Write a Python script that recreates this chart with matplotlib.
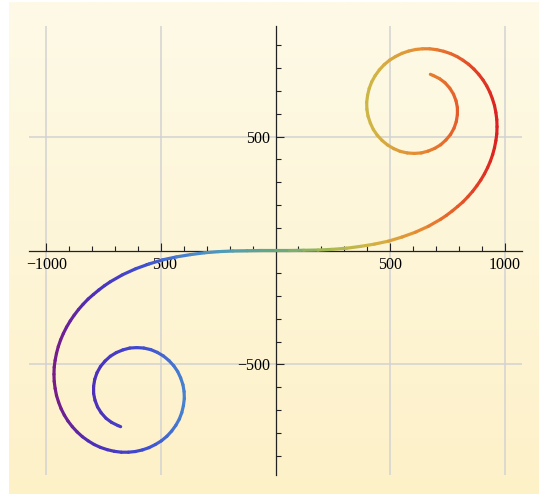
import numpy as np
import matplotlib
matplotlib.use('Agg')
import matplotlib.pyplot as plt
from matplotlib.collections import LineCollection
from matplotlib.colors import LinearSegmentedColormap, to_rgb

upper_x = [0, 62, 124, 186, 248, 310, 371, 432, 493, 552,
           610, 667, 721, 746, 771, 795, 818, 840, 860, 879,
           896, 912, 926, 938, 948, 956, 962, 966, 967, 966,
           962, 956, 947, 936, 922, 906, 887, 866, 843, 818,
           792, 764, 734, 704, 673, 642, 612, 581, 552, 524,
           498, 474, 453, 435, 420, 409, 402, 398, 399, 404,
           414, 427, 444, 465, 489, 516, 544, 575, 605, 636,
           666, 695, 721, 744, 764, 779, 789, 794, 794, 788,
           777, 761, 740, 716, 688, 676]
upper_y = [0, 0, 1, 2, 5, 10, 18, 28, 41, 59,
           80, 106, 137, 154, 173, 193, 213, 236, 259, 284,
           309, 336, 364, 392, 421, 451, 482, 512, 543, 574,
           605, 636, 665, 694, 722, 748, 773, 796, 817, 835,
           851, 864, 874, 881, 885, 885, 882, 875, 865, 851,
           835, 815, 792, 767, 740, 711, 681, 650, 619, 589,
           559, 531, 506, 483, 463, 447, 435, 428, 426, 428,
           436, 448, 464, 485, 509, 536, 565, 596, 627, 657,
           686, 712, 736, 754, 768, 773]

# lower left half (inner end -> origin)
lower_x = [-676, -688, -716, -740, -761, -777, -788, -794, -794, -789,
           -779, -764, -744, -721, -695, -666, -636, -605, -575, -544,
           -516, -489, -465, -444, -427, -414, -404, -399, -398, -402,
           -409, -420, -435, -453, -474, -498, -524, -552, -581, -612,
           -642, -673, -704, -734, -764, -792, -818, -843, -866, -887,
           -906, -922, -936, -947, -956, -962, -966, -967, -966, -962,
           -956, -948, -938, -926, -912, -896, -879, -860, -840, -818,
           -795, -771, -746, -721, -667, -610, -552, -493, -432, -371,
           -310, -248, -186, -124, -62]
lower_y = [-773, -768, -754, -736, -712, -686, -657, -627, -596, -565,
           -536, -509, -485, -464, -448, -436, -428, -426, -428, -435,
           -447, -463, -483, -506, -531, -559, -589, -619, -650, -681,
           -711, -740, -767, -792, -815, -835, -851, -865, -875, -882,
           -885, -885, -881, -874, -864, -851, -835, -817, -796, -773,
           -748, -722, -694, -665, -636, -605, -574, -543, -512, -482,
           -451, -421, -392, -364, -336, -309, -284, -259, -236, -213,
           -193, -173, -154, -137, -106, -80, -59, -41, -28, -18,
           -10, -5, -2, -1, 0]

xticks = [-1000, -500, 500, 1000]
yticks = [-500, 500]
xlabels = ['\u22121000', '\u2212500', '500', '1000']
ylabels = ['\u2212500', '500']

# rainbow gradient, coloured by x
stops = [0.0, 0.08, 0.2, 0.3, 0.4, 0.5, 0.62, 0.72, 0.82, 0.91, 1.0]
stop_cols = [(0.47, 0.11, 0.53), (0.31, 0.18, 0.72), (0.25, 0.30, 0.82),
             (0.28, 0.52, 0.81), (0.32, 0.62, 0.70), (0.38, 0.66, 0.50),
             (0.65, 0.73, 0.32), (0.82, 0.71, 0.27), (0.90, 0.56, 0.20),
             (0.90, 0.37, 0.17), (0.86, 0.13, 0.13)]
cmap = LinearSegmentedColormap.from_list('mma_rainbow', list(zip(stops, stop_cols)))

plt.rcParams['font.family'] = ['Liberation Serif', 'DejaVu Serif']

fig = plt.figure(figsize=(5.39, 4.96), dpi=100)
fig.patch.set_facecolor('white')

# cream gradient background
bg = fig.add_axes([9 / 539, 2 / 496, 530 / 539, 492 / 496], zorder=0)
grad = np.linspace(0, 1, 256).reshape(-1, 1)
top = np.array(to_rgb('#fefae7'))
bot = np.array(to_rgb('#fdf1c8'))
img = top[None, None, :] * (1 - grad[:, :, None]) + bot[None, None, :] * grad[:, :, None]
bg.imshow(img, aspect='auto', extent=[0, 1, 0, 1])
bg.axis('off')

ax = fig.add_axes([29 / 539, 21 / 496, 493 / 539, 449 / 496], zorder=1)
ax.patch.set_alpha(0)
ax.set_xlim(-1076, 1076)
ax.set_ylim(-985, 985)

xs = np.array(lower_x + upper_x, dtype=float)
ys = np.array(lower_y + upper_y, dtype=float)
pts = np.column_stack([xs, ys])
segs = np.stack([pts[:-1], pts[1:]], axis=1)
xm = (xs[:-1] + xs[1:]) / 2
lim = np.abs(xs).max()
cols = cmap((xm + lim) / (2 * lim))
lc = LineCollection(segs, colors=cols, linewidths=2.3, capstyle='round',
                    joinstyle='round', zorder=3)
lc.set_snap(False)
ax.add_collection(lc)

# grid
for v in xticks:
    ax.axvline(v, color='#d2d2d2', lw=1.1, zorder=1)
for v in yticks:
    ax.axhline(v, color='#d2d2d2', lw=1.1, zorder=1)

for s in ['top', 'right']:
    ax.spines[s].set_visible(False)
ax.spines['left'].set_position(('data', 0))
ax.spines['bottom'].set_position(('data', 0))
for s in ['left', 'bottom']:
    ax.spines[s].set_linewidth(0.9)
    ax.spines[s].set_color('#222222')
    ax.spines[s].set_zorder(2)

ax.set_xticks(xticks)
ax.set_xticklabels(xlabels)
ax.set_yticks(yticks)
ax.set_yticklabels(ylabels)
minor = [v for v in range(-900, 1000, 100) if v % 500 != 0]
ax.set_xticks(minor, minor=True)
ax.set_yticks(minor, minor=True)
ax.tick_params(which='both', direction='in', color='#222222', width=0.8, labelsize=11.5)
ax.tick_params(which='major', length=5.5)
ax.tick_params(which='minor', length=3.5)
ax.tick_params(axis='x', which='major', pad=5)
ax.tick_params(axis='y', which='major', pad=4)

fig.savefig('out.png', dpi=100)
